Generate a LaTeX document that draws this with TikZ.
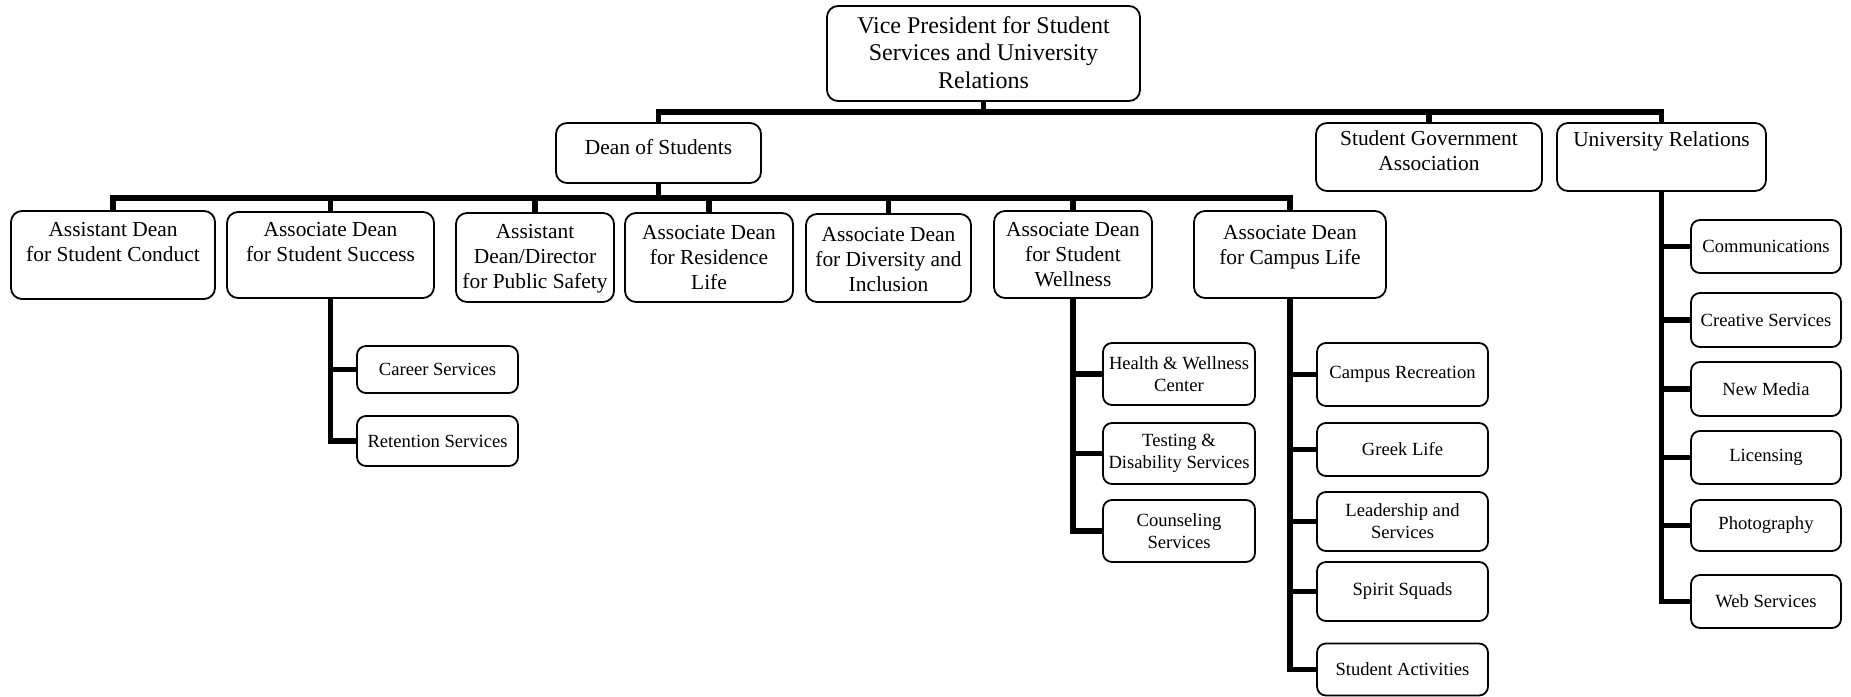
\documentclass[tikz,border=0pt]{standalone}
\usepackage{fontspec}
\setmainfont{Liberation Serif}
\newcommand{\tbx}[4][4pt]{\parbox[c][#3][t]{#2}{\centering\vspace*{#1}\strut #4\par}}
\begin{document}
\begin{tikzpicture}[x=0.5pt,y=-0.5pt,
  bigbox/.style={draw, line width=0.9pt, rounded corners=5.5pt, inner sep=0pt,
    font=\fontsize{10.7}{12.6}\selectfont},
  topbox/.style={bigbox, font=\fontsize{12}{13.75}\selectfont},
  smallbox/.style={draw, line width=0.9pt, rounded corners=4.5pt, inner sep=0pt,
    align=center, font=\fontsize{9.3}{11}\selectfont},
  sz/.style 2 args={minimum width=#1, minimum height=#2},
  conn/.style={line width=2.7pt}]
\fill[white] (0,0) rectangle (1851,696);
\useasboundingbox (0,0) rectangle (1851,696);

% level 0
\node[topbox] (vp) at (983.5,53.5) {\tbx[3.9pt]{156.5pt}{47.5pt}{Vice President for Student\\Services and University\\Relations}};
% level 1
\node[bigbox] (dean) at (658.5,153) {\tbx[7pt]{102.5pt}{30pt}{Dean of Students}};
\node[bigbox] (sga) at (1429,157) {\tbx[2.2pt]{113pt}{34pt}{Student Government\\Association}};
\node[bigbox] (ur) at (1661.5,157) {\tbx[2.7pt]{104.5pt}{34pt}{University Relations}};
% level 2
\node[bigbox] (conduct) at (113,255) {\tbx[3.7pt]{102pt}{44pt}{Assistant Dean\\for Student Conduct}};
\node[bigbox] (success) at (330.5,255) {\tbx[3.2pt]{103.5pt}{43pt}{Associate Dean\\for Student Success}};
\node[bigbox] (safety) at (535,257.5) {\tbx[3.7pt]{79pt}{44.5pt}{Assistant\\Dean/Director\\for Public Safety}};
\node[bigbox] (residence) at (709,257.5) {\tbx[4.2pt]{84pt}{44.5pt}{Associate Dean\\for Residence\\Life}};
\node[bigbox] (diversity) at (888.5,258) {\tbx[4.7pt]{82.5pt}{44pt}{Associate Dean\\for Diversity and\\Inclusion}};
\node[bigbox] (wellness) at (1073,254.5) {\tbx[3.7pt]{79pt}{43.5pt}{Associate Dean\\for Student\\Wellness}};
\node[bigbox] (clife) at (1290,254.5) {\tbx[5.2pt]{96pt}{43.5pt}{Associate Dean\\for Campus Life}};
% student success children
\node[smallbox, sz={80.5pt}{23.5pt}] (career) at (437.5,369.5) {Career Services};
\node[smallbox, sz={80.5pt}{25pt}] (retention) at (437.5,441) {Retention Services};
% wellness children
\node[smallbox, sz={76pt}{31pt}] (health) at (1179,374) {Health \& Wellness\\Center};
\node[smallbox, sz={76pt}{30.5pt}] (testing) at (1179,453.5) {Testing \&\\Disability Services};
\node[smallbox, sz={76pt}{31pt}] (counsel) at (1179,531) {Counseling\\Services};
% campus life children
\node[smallbox, sz={85.5pt}{31.5pt}] (crec) at (1402.5,374.5) {Campus Recreation};
\node[smallbox, sz={85.5pt}{26.5pt}] (greek) at (1402.5,449.5) {Greek Life};
\node[smallbox, sz={85.5pt}{29.5pt}] (lead) at (1402.5,521.5) {Leadership and\\Services};
\node[smallbox, sz={85.5pt}{29.5pt}] (spirit) at (1402.5,591.5) {Spirit Squads};
\node[smallbox, sz={85.5pt}{26pt}] (sact) at (1402.5,669.5) {Student Activities};
% university relations children
\node[smallbox, sz={75pt}{26.5pt}] (comm) at (1766,246.5) {Communications};
\node[smallbox, sz={75pt}{27pt}] (creative) at (1766,320) {Creative Services};
\node[smallbox, sz={75pt}{27pt}] (media) at (1766,389) {New Media};
\node[smallbox, sz={75pt}{26.5pt}] (lic) at (1766,457.5) {Licensing};
\node[smallbox, sz={75pt}{25.5pt}] (photo) at (1766,525.5) {Photography};
\node[smallbox, sz={75pt}{26.5pt}] (web) at (1766,601.5) {Web Services};

% connectors level 0 -> 1
\coordinate (b1) at (983.5,112);
\draw[conn] (vp.south) -- (b1);
\draw[conn] (dean.north) |- (b1) -| (ur.north);
\draw[conn] (b1 -| sga.north) -- (sga.north);
% level 1 -> 2
\coordinate (b2) at (658.5,198);
\draw[conn] (dean.south) -- (b2);
\draw[conn] (conduct.north) |- (b2) -| (clife.north);
\foreach \n in {success,safety,residence,diversity,wellness}
  \draw[conn] (b2 -| \n.north) -- (\n.north);
% trunks
\draw[conn] (success.south) |- (retention.west);
\draw[conn] (success.south |- career.west) -- (career.west);
\draw[conn] (wellness.south) |- (counsel.west);
\foreach \n in {health,testing}
  \draw[conn] (wellness.south |- \n.west) -- (\n.west);
\draw[conn] (clife.south) |- (sact.west);
\foreach \n in {crec,greek,lead,spirit}
  \draw[conn] (clife.south |- \n.west) -- (\n.west);
\draw[conn] (ur.south) |- (web.west);
\foreach \n in {comm,creative,media,lic,photo}
  \draw[conn] (ur.south |- \n.west) -- (\n.west);
\end{tikzpicture}
\end{document}
